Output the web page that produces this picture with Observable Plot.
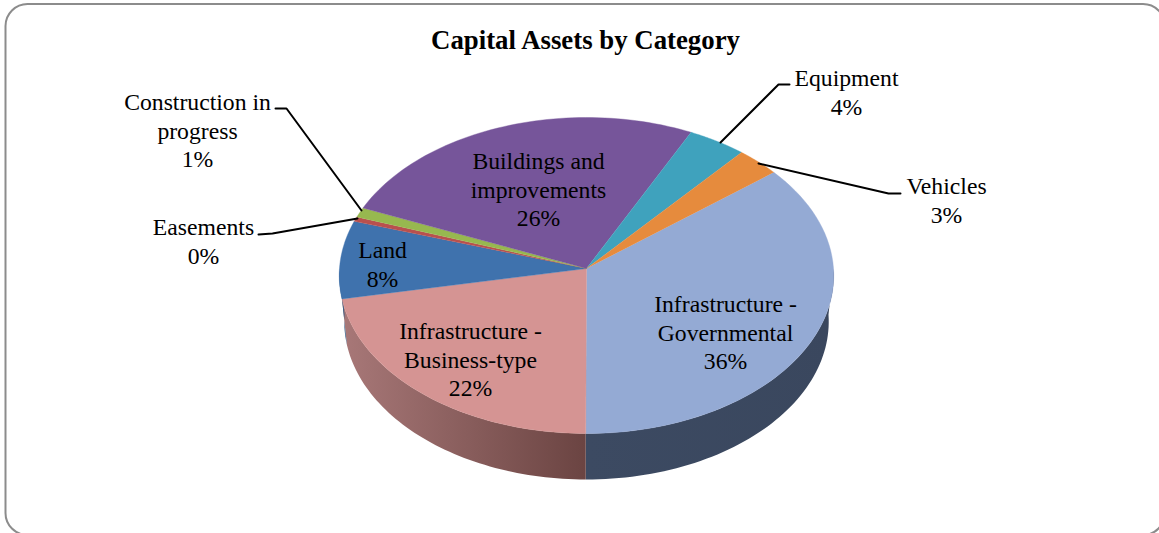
<!DOCTYPE html>
<html>
<head>
<meta charset="utf-8">
<script src="https://cdn.jsdelivr.net/npm/d3@7"></script>
<script src="https://cdn.jsdelivr.net/npm/@observablehq/plot@0.6"></script>
<style>
  html, body { margin: 0; padding: 0; background: #fff; overflow: hidden; }
  svg { display: block; }
</style>
</head>
<body>
<div id="chart"></div>
<script>
// Capital assets, share of total by category, clockwise from the top-right.
const categories = [
  "Infrastructure -\nGovernmental",
  "Infrastructure -\nBusiness-type",
  "Land",
  "Easements",
  "Construction in\nprogress",
  "Buildings and\nimprovements",
  "Equipment",
  "Vehicles"
];
const shares = [36, 22, 8, 0.49, 1, 26, 4, 3];
const sliceColors = ["#94aad4", "#d59493", "#3f72ad", "#b9504e", "#97b84f", "#76559a", "#3fa2bd", "#e68b3d"];
const title = "Capital Assets by Category";

// Label centres and leader paths, in chart pixels.
const labelCentres = [[725, 331], [470, 358], [382, 263], [203, 240], [197, 129], [538, 188], [846, 91], [946, 199]];
const leaders = [
  {name: "Easements", path: [[258, 234], [272, 233], [357, 218]]},
  {name: "Construction", path: [[275, 108], [286, 108], [361, 210]]},
  {name: "Equipment", path: [[789, 84], [778, 84], [720, 142]]},
  {name: "Vehicles", path: [[900, 193], [888, 193], [758, 163]]}
];

// Pie geometry: a disc seen in perspective, so near slices read slightly larger.
const W = 1159, H = 533;
const depthBias = 0.0443;
const topRim = {cx: 586, cy: 268, rx: 247, ry: 157.7};
const baseRim = {cx: 586, cy: 314, rx: 242, ry: 157.7};
const apex = [topRim.cx, topRim.cy];
const startAngle = 51.2 * Math.PI / 180;

const onRim = (rim, a) => {
  const w = 1 + depthBias * Math.cos(a);
  return [rim.cx + rim.rx * Math.sin(a) / w, rim.cy - rim.ry * Math.cos(a) / w];
};
const sweep = (a0, a1) => d3.range(0, 61).map(i => a0 + (a1 - a0) * i / 60);

const arcs = d3.pie().sort(null).startAngle(startAngle).endAngle(startAngle + 2 * Math.PI)(shares);

const faces = arcs.flatMap((arc, i) =>
  [apex, ...sweep(arc.startAngle, arc.endAngle).map(a => onRim(topRim, a))]
    .map(([x, y]) => ({category: categories[i], x, y}))
);

// The wall is visible only on the near half of the rim.
const wallPoints = i => {
  const a0 = Math.max(arcs[i].startAngle, Math.PI / 2);
  const a1 = Math.min(arcs[i].endAngle, 3 * Math.PI / 2);
  return [
    ...sweep(a0, a1).map(a => onRim(topRim, a)),
    ...sweep(a1, a0).map(a => onRim(baseRim, a))
  ].map(([x, y]) => ({x, y}));
};

const labels = categories.map((name, i) => ({
  text: `${name}\n${Math.round(shares[i])}%`,
  x: labelCentres[i][0],
  y: labelCentres[i][1]
}));

const leaderPoints = leaders.flatMap(l => l.path.map(([x, y]) => ({name: l.name, x, y})));

// Horizontal shading for the side walls.
function wallGradients() {
  const g = d3.create("svg:g");
  const defs = g.append("defs");
  const stops = {
    "wall-gov": ["#3c4a62", "#3a475e"],
    "wall-bus": ["#a87878", "#6b4442"],
    "wall-land": ["#2f5a85", "#2f5a85"]
  };
  for (const [id, [from, to]] of Object.entries(stops)) {
    const lg = defs.append("linearGradient").attr("id", id);
    lg.append("stop").attr("offset", "0%").attr("stop-color", from);
    lg.append("stop").attr("offset", "100%").attr("stop-color", to);
  }
  return g.node();
}

const serif = "'Liberation Serif', 'Times New Roman', serif";

const chart = Plot.plot({
  width: W,
  height: H,
  margin: 0,
  x: {domain: [0, W], range: [0, W], axis: null},
  y: {domain: [0, H], range: [0, H], axis: null},
  color: {domain: categories, range: sliceColors},
  style: {background: "#fff", fontFamily: serif},
  marks: [
    wallGradients,
    Plot.rect([{x1: 5.5, x2: 1165, y1: 4, y2: 535}], {
      x1: "x1", x2: "x2", y1: "y1", y2: "y2", rx: 22, ry: 22,
      fill: "none", stroke: "#8c8c8c", strokeWidth: 2
    }),
    Plot.line(wallPoints(0), {x: "x", y: "y", fill: "url(#wall-gov)", stroke: "none"}),
    Plot.line(wallPoints(1), {x: "x", y: "y", fill: "url(#wall-bus)", stroke: "none"}),
    Plot.line(wallPoints(2), {x: "x", y: "y", fill: "url(#wall-land)", stroke: "none"}),
    Plot.line(faces, {x: "x", y: "y", z: "category", fill: "category", stroke: "category", strokeWidth: 0.4}),
    Plot.line(leaderPoints, {x: "x", y: "y", z: "name", stroke: "#000", strokeWidth: 2, curve: "linear"}),
    Plot.text(labels, {
      x: "x", y: "y", text: "text", fontSize: 23.7, lineHeight: 1.2,
      fill: "#000", fontFamily: serif, textAnchor: "middle"
    }),
    Plot.text([title], {
      x: () => 585, y: () => 40, text: d => d, fontSize: 26.8, fontWeight: "bold",
      fill: "#000", fontFamily: serif, textAnchor: "middle"
    })
  ]
});

document.getElementById("chart").appendChild(chart);
</script>
</body>
</html>
